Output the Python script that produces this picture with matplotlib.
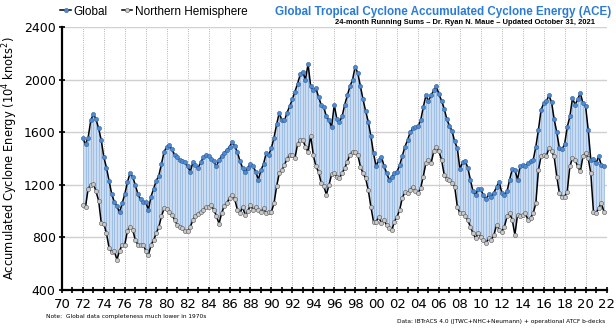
import numpy as np
import matplotlib
matplotlib.use("Agg")
import matplotlib.pyplot as plt

# quarterly readings, 24-month running sums (10^4 kt^2)
years = np.arange(1972, 2022, 0.25)

global_ace = [
    1554, 1510, 1560, 1690,  1740, 1700, 1630, 1540,  1410, 1330, 1230, 1130,
    1070, 1040, 990, 1060,   1130, 1220, 1290, 1260,  1200, 1130, 1090, 1070,
    1070, 1010, 1110, 1170,  1230, 1270, 1360, 1450,  1490, 1500, 1470, 1430,
    1415, 1390, 1385, 1370,  1340, 1300, 1370, 1350,  1330, 1370, 1410, 1425,
    1420, 1400, 1380, 1340,  1390, 1420, 1445, 1465,  1490, 1525, 1495, 1450,
    1380, 1330, 1295, 1330,  1360, 1345, 1300, 1240,  1310, 1360, 1440, 1430,
    1480, 1560, 1660, 1750,  1690, 1690, 1750, 1800,  1850, 1910, 1970, 2040,
    2060, 2000, 2120, 1950,  1920, 1935, 1870, 1810,  1790, 1720, 1690, 1640,
    1810, 1700, 1680, 1720,  1810, 1880, 1950, 2000,  2100, 2050, 1950, 1850,
    1760, 1680, 1570, 1440,  1340, 1390, 1415, 1345,  1290, 1240, 1260, 1290,
    1300, 1350, 1420, 1490,  1540, 1600, 1630, 1640,  1645, 1690, 1790, 1880,
    1840, 1880, 1920, 1950,  1890, 1840, 1780, 1700,  1650, 1610, 1530, 1480,
    1320, 1370, 1385, 1330,  1240, 1150, 1125, 1170,  1165, 1120, 1090, 1130,
    1110, 1140, 1185, 1225,  1140, 1125, 1150, 1240,  1320, 1315, 1240, 1340,
    1350, 1340, 1365, 1380,  1390, 1490, 1620, 1770,  1820, 1835, 1880, 1830,
    1700, 1600, 1480, 1470,  1510, 1640, 1720, 1860,  1810, 1850, 1900, 1820,
    1800, 1620, 1390, 1400,  1365, 1416, 1352, 1340,
]

nh_ace = [
    1045, 1035, 1170, 1200,  1210, 1150, 1080, 910,   905, 830, 720, 690,
    695, 630, 700, 740,      745, 850, 880, 860,      780, 745, 740, 745,
    700, 665, 740, 780,      830, 880, 960, 1020,     1015, 995, 970, 935,
    895, 880, 870, 845,      845, 880, 930, 965,      980, 990, 1010, 1033,
    1033, 1045, 1010, 960,   905, 985, 1040, 1060,    1100, 1120, 1090, 1010,
    985, 1030, 970, 1000,    1046, 1010, 1030, 1010,  995, 1020, 985, 990,
    995, 1060, 1190, 1288,   1310, 1350, 1400, 1425,  1427, 1405, 1510, 1540,
    1540, 1490, 1450, 1575,  1427, 1340, 1300, 1215,  1190, 1125, 1199, 1280,
    1288, 1262, 1250, 1288,  1326, 1376, 1427, 1452,  1452, 1427, 1338, 1288,
    1250, 1160, 1033, 920,   919, 957, 907, 932,      894, 869, 856, 920,
    957, 1010, 1100, 1145,   1136, 1160, 1185, 1150,  1136, 1175, 1263, 1365,
    1390, 1365, 1454, 1487,  1454, 1390, 1276, 1245,  1238, 1213, 1187, 1035,
    984, 984, 959, 930,      882, 832, 794, 832,      800, 781, 755, 794,
    781, 819, 895, 860,      844, 882, 959, 984,      933, 819, 971, 959,
    971, 984, 933, 950,      984, 1060, 1314, 1416,   1429, 1416, 1479, 1454,
    1416, 1263, 1136, 1111,  1111, 1149, 1340, 1403,  1390, 1340, 1302, 1416,
    1441, 1403, 1289, 997,   984, 1022, 1060, 997,
]

fig = plt.figure(figsize=(6.16, 3.31), dpi=100)
ax = fig.add_axes([0.1006, 0.124, 0.884, 0.794])

ax.fill_between(years, nh_ace, global_ace, color='#cadcf2', lw=0, zorder=1)
ax.vlines(years, nh_ace, global_ace, color='#8fb3e0', lw=0.5, zorder=2)

ax.plot(years, global_ace, color='black', lw=1.1, marker='o', ms=3.0,
        mfc='#4f8bd3', mec='#2f5f9e', mew=0.4, zorder=4)
ax.plot(years, nh_ace, color='black', lw=1.1, marker='o', ms=3.0,
        mfc='#c9c9c9', mec='#555555', mew=0.4, zorder=3)

ax.set_xlim(1970, 2022)
ax.set_ylim(400, 2400)
ax.set_yticks(range(400, 2401, 400))
ax.set_xticks(range(1970, 2023, 2))
ax.set_xticklabels(['%02d' % (y % 100) for y in range(1970, 2023, 2)], fontsize=9.5)
ax.set_xticks(range(1970, 2023), minor=True)
ax.tick_params(axis='y', labelsize=9, direction='inout', length=5, width=1.2, pad=2)
ax.tick_params(axis='x', which='both', direction='inout', length=5, width=1.2)

ax.grid(axis='y', color='#d0d0d0', lw=1)
ax.grid(axis='x', color='#9a9a9a', lw=0.6, ls=':')
ax.set_axisbelow(True)
for s in ['top', 'right']:
    ax.spines[s].set_visible(False)
ax.spines['left'].set_linewidth(1.6)
ax.spines['bottom'].set_linewidth(1.6)

ax.set_ylabel('Accumulated Cyclone Energy (10$^4$ knots$^2$)', fontsize=8.3, labelpad=3)

fig.text(0.992, 0.965, 'Global Tropical Cyclone Accumulated Cyclone Energy (ACE)',
         ha='right', va='center', fontsize=8.4, color='#2a7bd6', fontweight='bold',
         family='Liberation Sans')
fig.text(0.755, 0.933, '24-month Running Sums \u2013 Dr. Ryan N. Maue \u2013 Updated October 31, 2021',
         ha='center', va='center', fontsize=5.4, fontweight='bold', family='Liberation Sans')

# legend drawn at top left
fig.legend(handles=ax.lines, labels=['Global', 'Northern Hemisphere'],
           loc='center left', bbox_to_anchor=(0.098, 0.965), ncol=2, frameon=False,
           prop={'family': 'Liberation Sans', 'size': 8.5},
           handlelength=0.9, handletextpad=0.2, columnspacing=1.2,
           borderaxespad=0, borderpad=0)

fig.text(0.075, 0.04, 'Note:  Global data completeness much lower in 1970s', fontsize=4.2)
fig.text(0.982, 0.025, 'Data: IBTrACS 4.0 (JTWC+NHC+Neumann) + operational ATCF b-decks',
         ha='right', fontsize=4.2)

fig.savefig('out.png', dpi=100)
